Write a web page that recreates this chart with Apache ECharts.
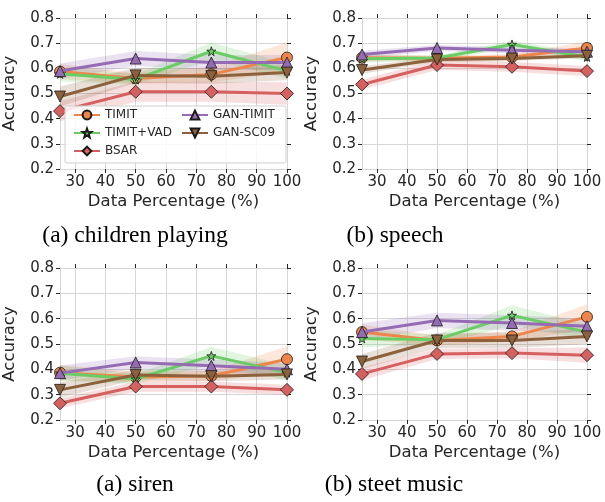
<!DOCTYPE html>
<html>
<head>
<meta charset="utf-8">
<script src="https://cdn.jsdelivr.net/npm/echarts@6/dist/echarts.min.js"></script>
<style>
html,body{margin:0;padding:0;background:#fff;}
#main{width:605px;height:502px;}
</style>
</head>
<body>
<div id="main"></div>
<script>
// ---- data ----
const xValues = [25, 50, 75, 100];
const xTicks = [30, 40, 50, 60, 70, 80, 90, 100];
const yTicks = [0.2, 0.3, 0.4, 0.5, 0.6, 0.7, 0.8];
const seriesNames = ['TIMIT', 'TIMIT+VAD', 'BSAR', 'GAN-TIMIT', 'GAN-SC09'];
const panelTitles = ['(a) children playing', '(b) speech', '(a) siren', '(b) steet music'];

// (a) children playing
const childrenTIMIT    = [0.587, 0.560, 0.576, 0.643];
const childrenVAD      = [0.578, 0.556, 0.668, 0.590];
const childrenBSAR     = [0.430, 0.507, 0.507, 0.500];
const childrenGANTIMIT = [0.589, 0.639, 0.623, 0.623];
const childrenGANSC09  = [0.488, 0.572, 0.569, 0.583];
const childrenTIMITci    = [0.030, 0.020, 0.030, 0.060];
const childrenVADci      = [0.030, 0.020, 0.035, 0.030];
const childrenBSARci     = [0.040, 0.040, 0.040, 0.045];
const childrenGANTIMITci = [0.030, 0.030, 0.030, 0.030];
const childrenGANSC09ci  = [0.040, 0.030, 0.030, 0.030];

// (b) speech
const speechTIMIT    = [0.642, 0.640, 0.645, 0.681];
const speechVAD      = [0.638, 0.641, 0.695, 0.645];
const speechBSAR     = [0.536, 0.613, 0.606, 0.589];
const speechGANTIMIT = [0.655, 0.681, 0.672, 0.666];
const speechGANSC09  = [0.593, 0.635, 0.639, 0.650];
const speechTIMITci    = [0.015, 0.010, 0.012, 0.025];
const speechVADci      = [0.015, 0.010, 0.015, 0.015];
const speechBSARci     = [0.020, 0.020, 0.020, 0.020];
const speechGANTIMITci = [0.015, 0.012, 0.012, 0.012];
const speechGANSC09ci  = [0.015, 0.010, 0.010, 0.010];

// (a) siren
const sirenTIMIT    = [0.387, 0.370, 0.374, 0.440];
const sirenVAD      = [0.385, 0.362, 0.453, 0.387];
const sirenBSAR     = [0.266, 0.332, 0.332, 0.319];
const sirenGANTIMIT = [0.385, 0.427, 0.414, 0.400];
const sirenGANSC09  = [0.319, 0.378, 0.373, 0.380];
const sirenTIMITci    = [0.030, 0.020, 0.020, 0.050];
const sirenVADci      = [0.030, 0.020, 0.035, 0.030];
const sirenBSARci     = [0.020, 0.020, 0.020, 0.020];
const sirenGANTIMITci = [0.030, 0.025, 0.025, 0.025];
const sirenGANSC09ci  = [0.030, 0.020, 0.020, 0.020];

// (b) steet music
const streetTIMIT    = [0.547, 0.514, 0.530, 0.607];
const streetVAD      = [0.522, 0.517, 0.613, 0.547];
const streetBSAR     = [0.382, 0.461, 0.464, 0.456];
const streetGANTIMIT = [0.547, 0.593, 0.583, 0.570];
const streetGANSC09  = [0.431, 0.514, 0.514, 0.530];
const streetTIMITci    = [0.030, 0.020, 0.020, 0.050];
const streetVADci      = [0.035, 0.020, 0.040, 0.030];
const streetBSARci     = [0.025, 0.020, 0.020, 0.030];
const streetGANTIMITci = [0.035, 0.030, 0.030, 0.030];
const streetGANSC09ci  = [0.030, 0.030, 0.030, 0.030];

const panelValues = [
  [childrenTIMIT, childrenVAD, childrenBSAR, childrenGANTIMIT, childrenGANSC09],
  [speechTIMIT, speechVAD, speechBSAR, speechGANTIMIT, speechGANSC09],
  [sirenTIMIT, sirenVAD, sirenBSAR, sirenGANTIMIT, sirenGANSC09],
  [streetTIMIT, streetVAD, streetBSAR, streetGANTIMIT, streetGANSC09]
];
const panelCI = [
  [childrenTIMITci, childrenVADci, childrenBSARci, childrenGANTIMITci, childrenGANSC09ci],
  [speechTIMITci, speechVADci, speechBSARci, speechGANTIMITci, speechGANSC09ci],
  [sirenTIMITci, sirenVADci, sirenBSARci, sirenGANTIMITci, sirenGANSC09ci],
  [streetTIMITci, streetVADci, streetBSARci, streetGANTIMITci, streetGANSC09ci]
];

// ---- styles ----
const colors = ['#ee854a', '#6acc64', '#d65f5f', '#956cb4', '#8c613c'];
const bandColors = ['rgba(238,133,74,0.2)', 'rgba(106,204,100,0.2)', 'rgba(214,95,95,0.2)', 'rgba(149,108,180,0.2)', 'rgba(140,97,60,0.2)'];
const starPath = 'path://M5,0 L6.18,3.38 L9.76,3.45 L6.9,5.62 L7.94,9.05 L5,7 L2.06,9.05 L3.1,5.62 L0.24,3.45 L3.82,3.38 Z';
const symbols = ['circle', starPath, 'diamond', 'triangle', 'path://M0,0 L10,0 L5,9 Z'];
const symbolSizes = [11, 9, 13, 11, 11];

const grids = [
  {left: 60, top: 18, width: 227, height: 151},
  {left: 362, top: 18, width: 225, height: 151},
  {left: 60, top: 268, width: 227, height: 152},
  {left: 362, top: 268, width: 225, height: 152}
];
const captionPos = [[135, 236], [395, 236], [135, 485], [394, 485]];

const textColor = '#262626';
const gridColor = '#d6d6d6';
const font = 'DejaVu Sans';
const N = xValues.length;

const xAxes = [], yAxes = [], series = [];
grids.forEach((g, gi) => {
  xAxes.push({
    gridIndex: gi, type: 'value', min: 25, max: 100, position: 'bottom',
    name: 'Data Percentage (%)', nameLocation: 'middle', nameGap: 24,
    nameTextStyle: {fontFamily: font, fontSize: 16.5, color: textColor},
    axisLine: {show: true, lineStyle: {color: gridColor, width: 1}},
    axisTick: {show: true, customValues: xTicks, length: 4, lineStyle: {color: textColor, width: 1}},
    axisLabel: {customValues: xTicks, fontFamily: font, fontSize: 15, color: textColor, margin: 6},
    splitLine: {show: true, lineStyle: {color: gridColor, width: 1}}
  });
  xAxes.push({
    gridIndex: gi, type: 'value', min: 25, max: 100, position: 'top',
    axisLine: {show: true, lineStyle: {color: gridColor, width: 1}},
    axisTick: {show: true, customValues: xTicks, length: 4, lineStyle: {color: textColor, width: 1}},
    axisLabel: {show: false},
    splitLine: {show: false}
  });
  yAxes.push({
    gridIndex: gi, type: 'value', min: 0.2, max: 0.8, interval: 0.1, position: 'left',
    name: 'Accuracy', nameLocation: 'middle', nameGap: 42,
    nameTextStyle: {fontFamily: font, fontSize: 16.5, color: textColor},
    axisLine: {show: true, lineStyle: {color: gridColor, width: 1}},
    axisTick: {show: true, length: 4, lineStyle: {color: textColor, width: 1}},
    axisLabel: {fontFamily: font, fontSize: 15, color: textColor, margin: 6,
      formatter: v => v.toFixed(1)},
    splitLine: {show: true, lineStyle: {color: gridColor, width: 1}}
  });
  yAxes.push({
    gridIndex: gi, type: 'value', min: 0.2, max: 0.8, interval: 0.1, position: 'right',
    axisLine: {show: true, lineStyle: {color: gridColor, width: 1}},
    axisTick: {show: true, length: 4, lineStyle: {color: textColor, width: 1}},
    axisLabel: {show: false},
    splitLine: {show: false}
  });

  const vals = panelValues[gi], cis = panelCI[gi];
  // confidence bands (one polygon per series)
  seriesNames.forEach((name, si) => {
    const lower = vals[si].map((v, i) => v - cis[si][i]);
    const upper = vals[si].map((v, i) => v + cis[si][i]);
    const item = xValues.concat(lower, upper);
    const col = bandColors[si];
    series.push({
      type: 'custom', name: 'band', xAxisIndex: gi * 2, yAxisIndex: gi * 2,
      silent: true, z: 1,
      dimensions: item.map((_, k) => 'd' + k),
      encode: {x: [0, 1, 2, 3], y: [4, 5, 6, 7, 8, 9, 10, 11]},
      data: [item],
      renderItem: function (params, api) {
        const pts = [];
        for (let i = 0; i < N; i++) pts.push(api.coord([api.value(i), api.value(N + i)]));
        for (let i = N - 1; i >= 0; i--) pts.push(api.coord([api.value(i), api.value(2 * N + i)]));
        return {type: 'polygon', shape: {points: pts}, style: {fill: col, stroke: null}};
      }
    });
  });
  // lines
  seriesNames.forEach((name, si) => {
    series.push({
      type: 'line', name: name, xAxisIndex: gi * 2, yAxisIndex: gi * 2,
      data: xValues.map((x, i) => [x, vals[si][i]]),
      symbol: symbols[si], symbolSize: symbolSizes[si], showAllSymbol: true,
      lineStyle: {color: colors[si], width: 3},
      itemStyle: {color: colors[si], borderColor: '#1a1a1a', borderWidth: 0.8},
      emphasis: {disabled: true}, animation: false, clip: false, z: 3 + si
    });
  });
});

const option = {
  backgroundColor: '#ffffff',
  animation: false,
  grid: grids.map(g => Object.assign({containLabel: false}, g)),
  xAxis: xAxes,
  yAxis: yAxes,
  legend: [
    {orient: 'vertical', left: 68, top: 104, itemGap: 6, itemWidth: 26, itemHeight: 11,
     data: ['TIMIT', 'TIMIT+VAD', 'BSAR'], z: 20,
     textStyle: {fontFamily: font, fontSize: 12, color: textColor}},
    {orient: 'vertical', left: 176, top: 104, itemGap: 6, itemWidth: 26, itemHeight: 11,
     data: ['GAN-TIMIT', 'GAN-SC09'], z: 20,
     textStyle: {fontFamily: font, fontSize: 12, color: textColor}}
  ],
  graphic: [
    {type: 'rect', z: 15, shape: {x: 65, y: 106, width: 221, height: 57, r: 2},
     style: {fill: 'rgba(255,255,255,0.85)', stroke: '#cfcfcf', lineWidth: 1}}
  ].concat(panelTitles.map((t, i) => ({
    type: 'text', z: 15, x: captionPos[i][0], y: captionPos[i][1],
    style: {text: t, fontFamily: 'Liberation Serif', fontSize: 23.5, fill: '#000',
      textAlign: 'center', textVerticalAlign: 'middle'}
  }))),
  series: series
};

const chart = echarts.init(document.getElementById('main'), null, {renderer: 'canvas'});
chart.setOption(option);
</script>
</body>
</html>
